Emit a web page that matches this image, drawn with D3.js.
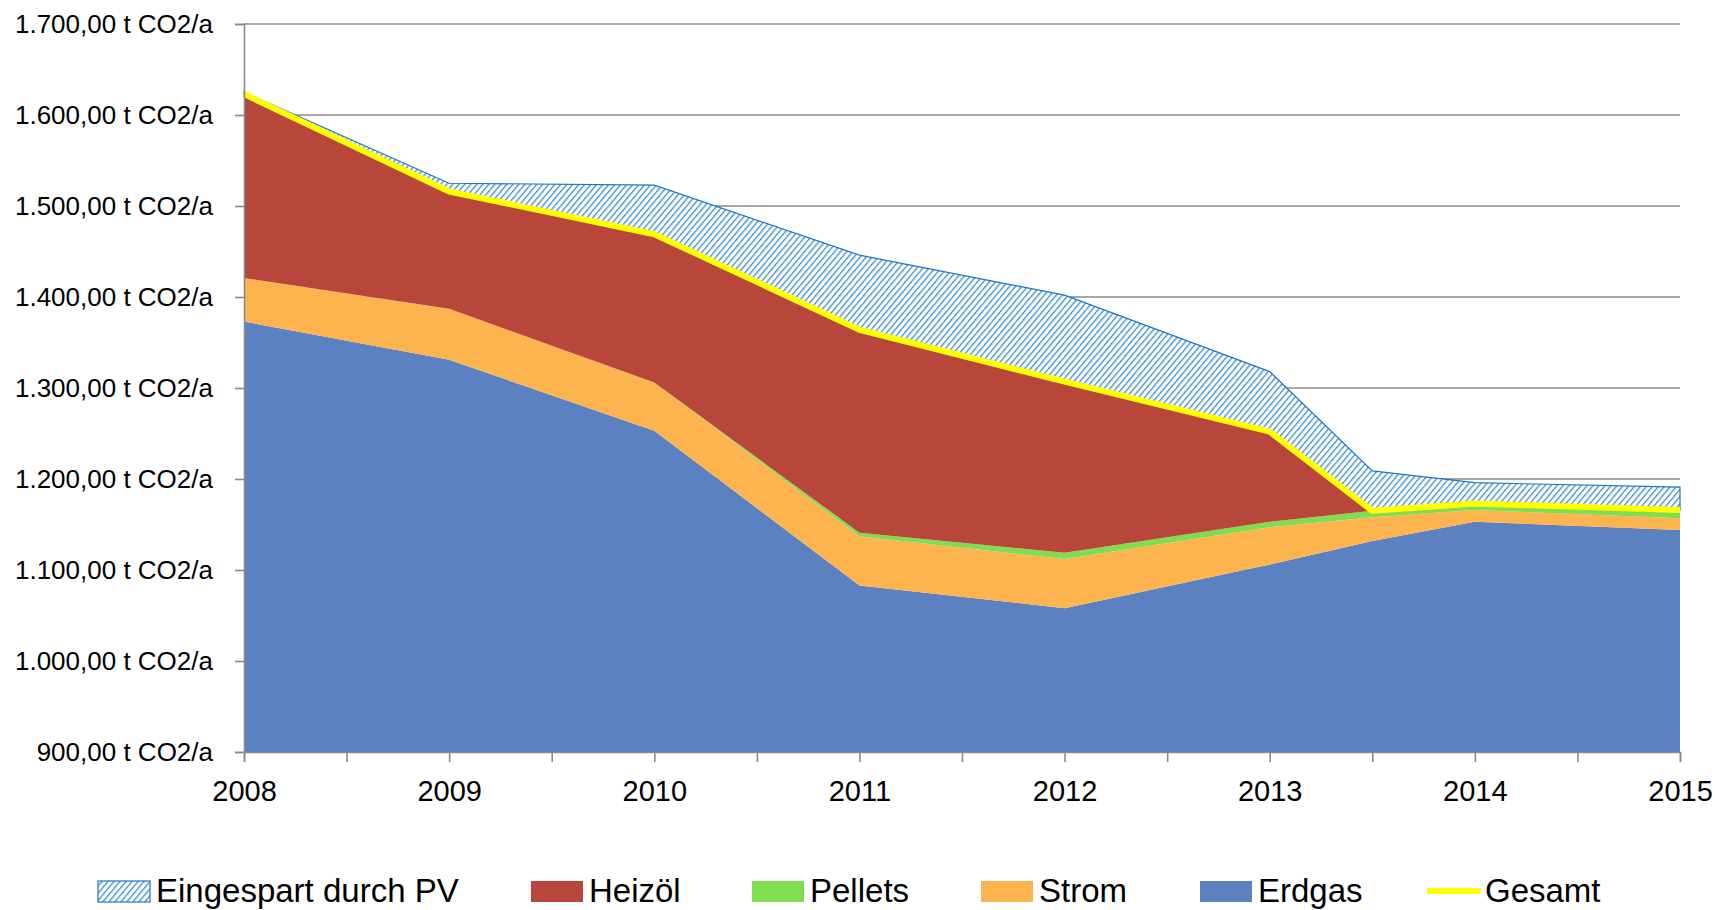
<!DOCTYPE html>
<html>
<head>
<meta charset="utf-8">
<script src="https://cdn.jsdelivr.net/npm/d3@7"></script>
<style>
  body { margin: 0; background: #fff; }
  svg { display: block; font-family: "Liberation Sans", Arial, sans-serif; }
</style>
</head>
<body>
<svg id="chart" width="1715" height="910"></svg>
<script>
// values (t CO2/a)
var years   = [2008, 2009, 2010, 2011, 2012, 2013, 2013.5, 2014, 2015];
var erdgas  = [1373, 1331, 1253, 1083, 1058, 1106, 1132, 1153, 1144];
var strom   = [48, 56, 53, 54, 54, 41, 26, 13, 13];
var pellets = [0, 0, 0, 4, 7, 6, 7, 7, 9];
var heizoel = [202, 129, 163, 223, 188, 99, 0, 0, 0];
var pv      = [2, 9, 54, 82, 95, 66, 44, 23, 25];
var gesamt  = [1623, 1516, 1469, 1364, 1307, 1252, 1165, 1173, 1166];

var yTicks = [900, 1000, 1100, 1200, 1300, 1400, 1500, 1600, 1700];
var xLabels = [2008, 2009, 2010, 2011, 2012, 2013, 2014, 2015];

var keys = ['erdgas', 'strom', 'pellets', 'heizoel', 'pv'];
var colors = {
    erdgas: '#5b81c1',
    strom: '#fdb44f',
    pellets: '#80dd4f',
    heizoel: '#b8463b',
    pv: 'url(#pvHatch)'
};

var rows = years.map(function(y, i) {
    return { year: y, erdgas: erdgas[i], strom: strom[i], pellets: pellets[i],
             heizoel: heizoel[i], pv: pv[i], gesamt: gesamt[i] };
});

var svg = d3.select('#chart');
// note: "top" is taken by window.top, so plot_* names
var plot_l = 244, plot_r = 1680, plot_t = 24, plot_b = 752;

var x = d3.scaleLinear().domain([2008, 2015]).range([plot_l, plot_r]);
var y = d3.scaleLinear().domain([900, 1700]).range([plot_b, plot_t]).clamp(true);

// hatch for "Eingespart durch PV"
var defs = svg.append('defs');
var pat = defs.append('pattern')
    .attr('id', 'pvHatch')
    .attr('patternUnits', 'userSpaceOnUse')
    .attr('width', 4.6).attr('height', 4.6)
    .attr('patternTransform', 'rotate(40)');
pat.append('rect').attr('width', 4.6).attr('height', 4.6).attr('fill', '#fff');
pat.append('rect').attr('width', 1.3).attr('height', 4.6).attr('fill', '#3b8dd4');

// gridlines
svg.append('g')
    .selectAll('line')
    .data(yTicks.slice(1))
    .enter().append('line')
        .attr('x1', plot_l).attr('x2', plot_r)
        .attr('y1', d => y(d)).attr('y2', d => y(d))
        .attr('stroke', '#8a8a8a').attr('stroke-width', 1.6);

// stacked areas
var series = d3.stack().keys(keys)(rows);
var area = d3.area()
    .x(d => x(d.data.year))
    .y0(d => y(d[0]))
    .y1(d => y(d[1]));

svg.append('g')
    .selectAll('path')
    .data(series)
    .enter().append('path')
        .attr('d', area)
        .attr('fill', d => colors[d.key])
        .attr('stroke', d => d.key == 'pv' ? '#1f74c4' : 'none')
        .attr('stroke-width', 1.2);

// Gesamt line
var line = d3.line()
    .x(d => x(d.year))
    .y(d => y(d.gesamt));
svg.append('path')
    .datum(rows)
    .attr('d', line)
    .attr('fill', 'none')
    .attr('stroke', '#ffff00')
    .attr('stroke-width', 6)
    .attr('stroke-linejoin', 'round');

// axes
var yAxis = d3.axisLeft(y).tickValues(yTicks).tickSize(9).tickPadding(22)
    .tickFormat(function(d) { return d3.format(',.2f')(d).replace(/,/g, '#').replace('.', ',').replace(/#/g, '.') + ' t CO2/a'; });
var gy = svg.append('g').attr('transform', 'translate(' + plot_l + ',0)').call(yAxis);
gy.select('.domain').attr('stroke', '#8a8a8a').attr('stroke-width', 1.6);
gy.selectAll('.tick line').attr('stroke', '#8a8a8a').attr('stroke-width', 1.6);
gy.selectAll('.tick text').attr('font-size', 26).attr('fill', '#000')
    .attr('font-family', '"Liberation Sans", Arial, sans-serif');

var xTicks = d3.range(2008, 2015.01, 0.5);
var xAxis = d3.axisBottom(x).tickValues(xTicks).tickSize(10).tickPadding(18)
    .tickFormat(d => xLabels.indexOf(d) >= 0 ? String(d) : '');
var gx = svg.append('g').attr('transform', 'translate(0,' + plot_b + ')').call(xAxis);
gx.select('.domain').attr('stroke', '#8a8a8a').attr('stroke-width', 1.6);
gx.selectAll('.tick line').attr('stroke', '#8a8a8a').attr('stroke-width', 1.6);
gx.selectAll('.tick text').attr('font-size', 29).attr('fill', '#000')
    .attr('font-family', '"Liberation Sans", Arial, sans-serif');

// legend
var legend = [
    { name: 'Eingespart durch PV', key: 'pv', sx: 98 },
    { name: 'Heizöl', key: 'heizoel', sx: 531 },
    { name: 'Pellets', key: 'pellets', sx: 752 },
    { name: 'Strom', key: 'strom', sx: 981 },
    { name: 'Erdgas', key: 'erdgas', sx: 1200 },
    { name: 'Gesamt', key: 'gesamt', sx: 1427 }
];
var lg = svg.append('g')
    .selectAll('g')
    .data(legend)
    .enter().append('g');

lg.filter(d => d.key != 'gesamt').append('rect')
    .attr('x', d => d.sx).attr('y', 881)
    .attr('width', 52).attr('height', 21)
    .attr('fill', d => colors[d.key])
    .attr('stroke', d => d.key == 'pv' ? '#1f74c4' : 'none')
    .attr('stroke-width', 1.2);
lg.filter(d => d.key == 'gesamt').append('line')
    .attr('x1', d => d.sx).attr('x2', d => d.sx + 54)
    .attr('y1', 891).attr('y2', 891)
    .attr('stroke', '#ffff00').attr('stroke-width', 6);
lg.append('text')
    .attr('x', d => d.sx + 58).attr('y', 902)
    .attr('font-size', 33)
    .text(d => d.name);
</script>
</body>
</html>
